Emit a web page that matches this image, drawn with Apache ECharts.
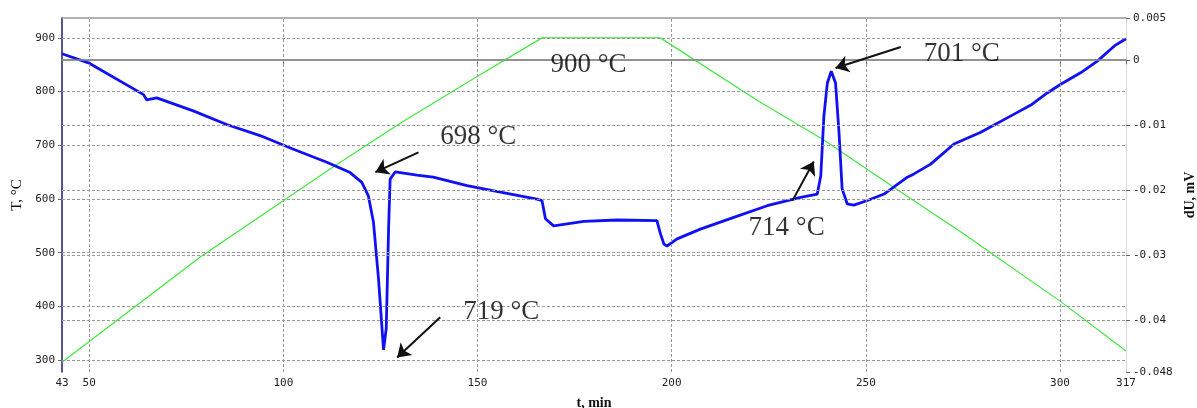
<!DOCTYPE html>
<html>
<head>
<meta charset="utf-8">
<script src="https://cdn.jsdelivr.net/npm/echarts@6/dist/echarts.min.js"></script>
<style>
  html, body { margin: 0; padding: 0; background: #fff; }
  #chart { width: 1197px; height: 408px; }
</style>
</head>
<body>
<div id="chart"></div>
<script>
// furnace temperature programme, T (°C) vs t (min)
const tempTime = [43, 78.6, 112.9, 130.1, 149.9, 166.6, 197.1, 222.0, 239.2, 259.0, 274.4, 300.2, 317]
const tempValue = [296, 492, 660, 741, 828, 900, 900, 784, 710, 613, 539, 409, 317]

// dilatometer signal dU (mV) vs t (min)
const duTime = [43, 49.8, 64.0, 64.8, 67.4, 76.8, 85.4, 94.0, 102.6, 111.2, 117.2, 120.2, 121.9, 123.2, 124.5, 125.8, 126.5, 127.1, 127.5, 128.8,
  130.1, 134.4, 138.6, 147.3, 155.9, 165.3, 166.6, 167.5, 169.6, 177.4, 186.0, 196.2, 197.1, 198.0, 198.8, 201.4, 207.4, 216.0, 224.6, 233.2,
  237.5, 238.4, 239.2, 240.1, 241.1, 242.2, 243.1, 243.9, 245.2, 246.9, 250.4, 254.7, 260.7, 262.4, 266.7, 272.7, 279.6, 288.2, 292.5, 296.8,
  300.2, 305.4, 309.7, 314.0, 317]
const duValue = [0.0010, -0.0004, -0.0053, -0.0061, -0.0058, -0.0078, -0.0099, -0.0116, -0.0137, -0.0157, -0.0173, -0.0188, -0.0209, -0.0249, -0.0336, -0.0446, -0.0413, -0.0260, -0.0183, -0.0172,
  -0.0173, -0.0177, -0.0180, -0.0193, -0.0203, -0.0214, -0.0216, -0.0244, -0.0255, -0.0248, -0.0246, -0.0247, -0.0267, -0.0283, -0.0286, -0.0275, -0.0260, -0.0242, -0.0224, -0.0211,
  -0.0206, -0.0178, -0.0086, -0.0035, -0.0017, -0.0035, -0.0112, -0.0198, -0.0221, -0.0223, -0.0216, -0.0206, -0.0180, -0.0175, -0.0160, -0.0129, -0.0111, -0.0083, -0.0069, -0.0050,
  -0.0037, -0.0019, -0.0001, 0.0022, 0.0033]

// axes
const tMin = 43
const tMax = 317
const timeTicks = [43, 50, 100, 150, 200, 250, 300, 317]
const timeGrid = [50, 100, 150, 200, 250, 300]
const tempMin = 278
const tempMax = 937
const tempTicks = [300, 400, 500, 600, 700, 800, 900]
const duMin = -0.048
const duMax = 0.0065
const duTicks = [-0.048, -0.04, -0.03, -0.02, -0.01, 0, duMax]
const duTickLabels = ['-0.048', '-0.04', '-0.03', '-0.02', '-0.01', '0', '0.005']
const duGrid = [-0.04, -0.03, -0.02, -0.01]

// annotations, in (t, T) units
const notes = [
  { text: '900 °C', at: [178.6, 850] },
  { text: '698 °C', at: [150.2, 715], tail: [134.8, 687], head: [123.7, 650] },
  { text: '719 °C', at: [156.1, 389], tail: [140.4, 380], head: [129.3, 305] },
  { text: '714 °C', at: [229.6, 547], tail: [231.1, 597], head: [236.6, 670] },
  { text: '701 °C', at: [274.7, 870], tail: [259.0, 883], head: [242.2, 844] }
]

const zip = (a, b) => a.map((v, i) => [v, b[i]])
const dotted = { color: '#9a9a9a', width: 1, type: [3, 2] }
const labelFont = { fontFamily: 'DejaVu Sans Mono', fontSize: 11, color: '#222' }

const chart = echarts.init(document.getElementById('chart'))
chart.setOption({
  animation: false,
  grid: { left: 62, right: 71, top: 18, bottom: 36, outerBoundsMode: 'none' },
  xAxis: [
    {
      type: 'value',
      min: tMin,
      max: tMax,
      name: 't, min',
      nameLocation: 'middle',
      nameGap: 24,
      nameTextStyle: { fontFamily: 'Liberation Serif', fontWeight: 'bold', fontSize: 14, color: '#111' },
      axisLine: { lineStyle: { color: '#888', width: 1.5 } },
      axisTick: { customValues: timeTicks, length: 4, lineStyle: { color: '#666' } },
      axisLabel: Object.assign({ customValues: timeTicks, margin: 6 }, labelFont),
      splitLine: { show: false }
    },
    {
      // top frame line only
      type: 'value',
      position: 'top',
      min: tMin,
      max: tMax,
      axisLine: { show: true, onZero: false, lineStyle: { color: '#999', width: 1.5 } },
      axisTick: { show: false },
      axisLabel: { show: false },
      splitLine: { show: false }
    }
  ],
  yAxis: [
    {
      type: 'value',
      position: 'left',
      min: tempMin,
      max: tempMax,
      name: 'T, °C',
      nameLocation: 'middle',
      nameGap: 36,
      nameTextStyle: { fontFamily: 'Liberation Serif', fontSize: 15, color: '#111' },
      axisLine: { show: true, lineStyle: { color: '#1c1c78', width: 1.5 } },
      axisTick: { show: true, customValues: tempTicks, length: 4, lineStyle: { color: '#666' } },
      axisLabel: Object.assign({ customValues: tempTicks, margin: 7 }, labelFont),
      splitLine: { show: false }
    },
    {
      type: 'value',
      position: 'right',
      min: duMin,
      max: duMax,
      name: 'dU, mV',
      nameLocation: 'middle',
      nameGap: 52,
      nameTextStyle: { fontFamily: 'Liberation Serif', fontWeight: 'bold', fontSize: 14, color: '#111' },
      axisLine: { show: true, lineStyle: { color: '#d8d8d8', width: 1 } },
      axisTick: { show: true, customValues: duTicks, length: 4, lineStyle: { color: '#666' } },
      axisLabel: Object.assign({
        customValues: duTicks,
        margin: 7,
        formatter: v => duTickLabels[duTicks.indexOf(v)] ?? String(v)
      }, labelFont),
      splitLine: { show: false }
    }
  ],
  series: [
    {
      name: 'T',
      type: 'line',
      yAxisIndex: 0,
      data: zip(tempTime, tempValue),
      showSymbol: false,
      symbol: 'none',
      lineStyle: { color: '#3ee83e', width: 1.2 },
      z: 3,
      markLine: {
        silent: true,
        symbol: 'none',
        label: { show: false },
        lineStyle: dotted,
        data: tempTicks.map(v => ({ yAxis: v })).concat(timeGrid.map(v => ({ xAxis: v })))
      }
    },
    {
      name: 'dU',
      type: 'line',
      yAxisIndex: 1,
      data: zip(duTime, duValue),
      showSymbol: false,
      symbol: 'none',
      lineStyle: { color: '#1010f4', width: 2.8 },
      z: 4,
      markLine: {
        silent: true,
        symbol: 'none',
        label: { show: false },
        data: duGrid.map(v => ({ yAxis: v, lineStyle: dotted }))
          .concat([{ yAxis: 0, lineStyle: { color: '#8c8c8c', width: 1.5, type: 'solid' } }])
      }
    },
    {
      name: 'notes',
      type: 'scatter',
      yAxisIndex: 0,
      symbolSize: 1,
      itemStyle: { color: 'rgba(0,0,0,0)' },
      z: 6,
      data: notes.map(n => ({ value: n.at, name: n.text })),
      label: {
        show: true,
        position: 'inside',
        formatter: '{b}',
        fontFamily: 'Liberation Serif',
        fontSize: 27,
        color: '#000'
      },
      markLine: {
        silent: true,
        symbol: ['none', 'arrow'],
        symbolSize: 13,
        label: { show: false },
        lineStyle: { color: '#111', width: 2, type: 'solid' },
        data: notes.filter(n => n.tail).map(n => [{ coord: n.tail }, { coord: n.head }])
      }
    }
  ]
})
</script>
</body>
</html>
